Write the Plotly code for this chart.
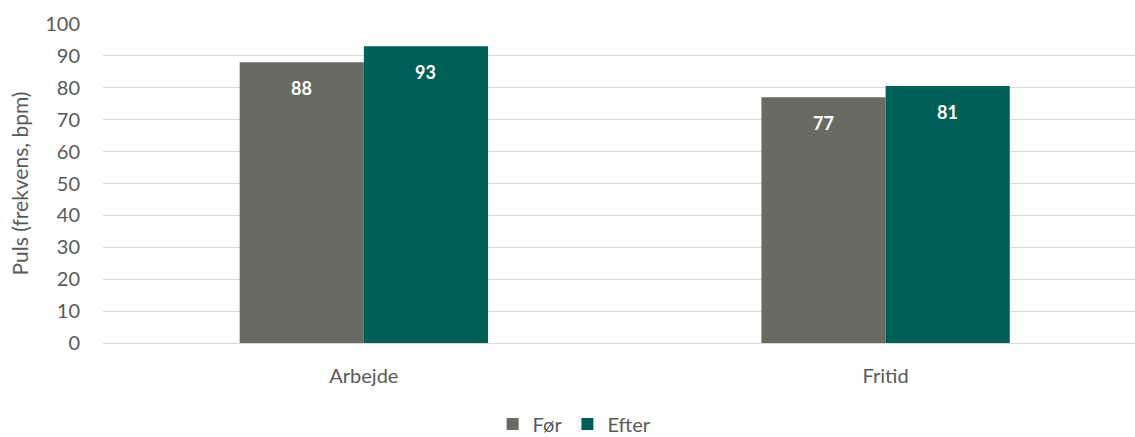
import plotly.graph_objects as go

categories = ["Arbejde", "Fritid"]
series_names = ["Før", "Efter"]
foer_values = [88, 77]
efter_values = [93, 80.6]
y_ticks = [0, 10, 20, 30, 40, 50, 60, 70, 80, 90, 100]

colors = {"Før": "#696A62", "Efter": "#006058"}
FONT = "Lato, Open Sans, sans-serif"
GREY_TXT = "#595959"

fig = go.Figure()
for name, vals in zip(series_names, [foer_values, efter_values]):
    fig.add_trace(go.Bar(
        x=categories, y=vals, name=name,
        marker=dict(color=colors[name], line=dict(width=0)),
    ))

# data labels inside near the top of each bar
bar_px = 124
for i, (name, vals) in enumerate(zip(series_names, [foer_values, efter_values])):
    shift = (-bar_px / 2) if i == 0 else (bar_px / 2)
    for c, v in zip(categories, vals):
        fig.add_annotation(
            x=c, y=v, text=f"{round(v):d}", showarrow=False,
            xshift=shift, yshift=-26, yanchor="middle",
            font=dict(family=FONT, size=18, color="white", weight="bold"),
        )

fig.update_layout(
    width=1135, height=437,
    margin=dict(l=103, r=0, t=24, b=94, autoexpand=False),
    paper_bgcolor="white", plot_bgcolor="white",
    barmode="group", bargap=0.524, bargroupgap=0,
    font=dict(family=FONT, size=20, color=GREY_TXT),
    showlegend=True,
    legend=dict(orientation="h", x=0.457, xanchor="center", y=-0.315, yanchor="bottom",
                font=dict(size=20, color=GREY_TXT), itemwidth=30, traceorder="normal",
                tracegroupgap=0),
    xaxis=dict(range=[-0.5, 1.478], showgrid=False, showline=False, ticks="",
               automargin=False, ticklabelstandoff=19,
               tickfont=dict(size=20, color=GREY_TXT)),
    yaxis=dict(range=[0, 100], tickvals=y_ticks, showgrid=True, gridcolor="#D9D9D9",
               gridwidth=1, zeroline=True, zerolinecolor="#D9D9D9", zerolinewidth=1,
               showline=False, ticks="", ticklabelstandoff=22, automargin=False,
               tickfont=dict(size=20, color=GREY_TXT),
               title=dict(text="Puls (frekvens, bpm)", font=dict(size=21, color=GREY_TXT),
                          standoff=10)),
)

fig.write_html("out.html")
